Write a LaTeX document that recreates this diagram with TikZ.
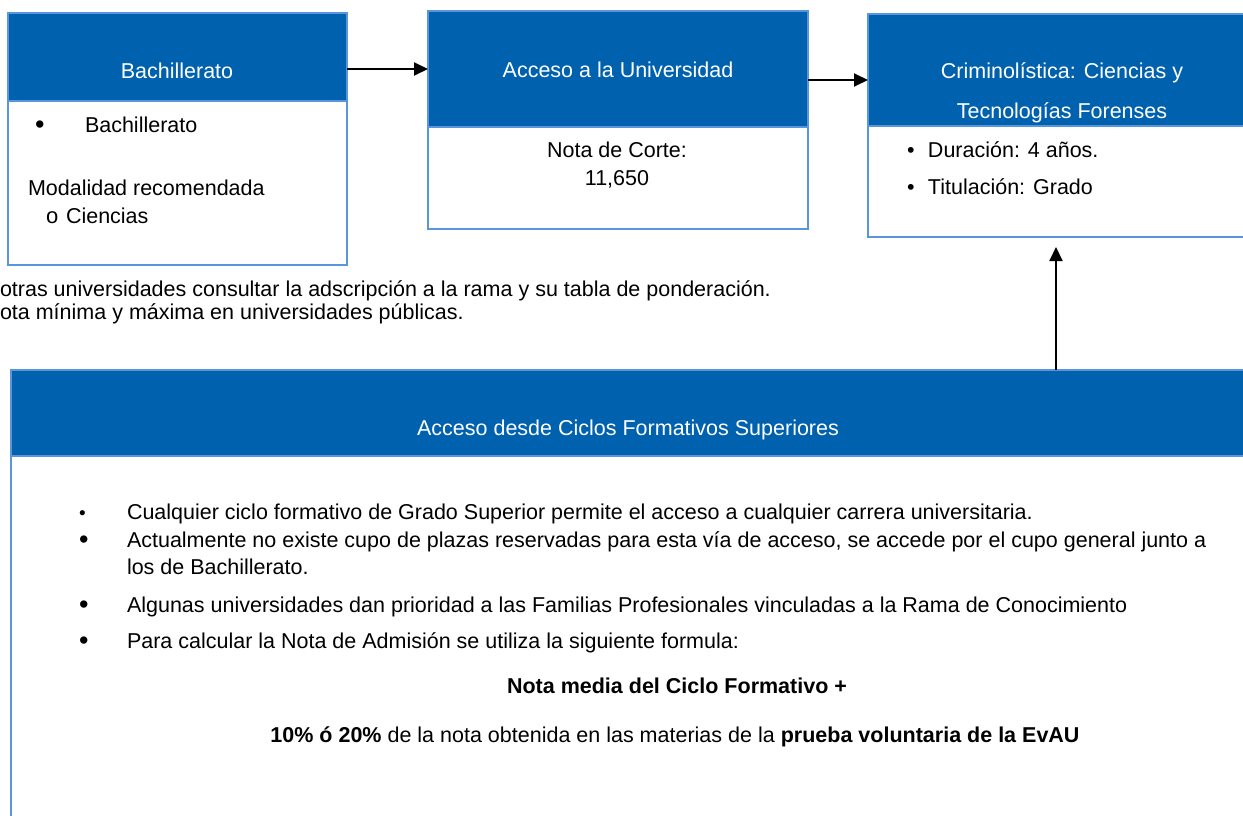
\documentclass[tikz,border=0pt]{standalone}
\usepackage{fontspec}
\setmainfont{Liberation Sans}
\usetikzlibrary{arrows.meta,calc}
\definecolor{hdrblue}{RGB}{0,97,174}
\definecolor{edgeblue}{RGB}{90,150,220}
\newcommand{\bigbul}{{\fontsize{27}{20}\selectfont\raisebox{-1pt}{•}}}
\begin{document}
\begin{tikzpicture}[x=1pt,y=-1pt,
  every node/.style={inner sep=0pt,outer sep=0pt},
  hdr/.style={draw=edgeblue,line width=1.2pt,fill=hdrblue,anchor=north west},
  bodybox/.style={draw=edgeblue,line width=1.2pt,fill=white,anchor=north west},
  htxt/.style={text=white,font=\fontsize{21.5}{25}\selectfont},
  txt/.style={text=black,font=\fontsize{21.5}{25}\selectfont,text height=15pt,text depth=4pt},
  arr/.style={line width=2pt,-{Triangle[length=14pt,width=13pt]}}]
\path[use as bounding box] (0,0) rectangle (1243,816);
\clip (0,0) rectangle (1243,816);
% box 1
\node[bodybox,minimum width=339pt,minimum height=252pt] (b1) at (8,13) {};
\node[hdr,minimum width=339pt,minimum height=88pt] (h1) at (8,13) {};
\node[htxt] (t1) at (177,71) {Bachillerato};
\node[txt,anchor=west] (b1a) at (35,127) {\makebox[50pt][l]{\bigbul}Bachillerato};
\node[txt,anchor=west] (b1b) at (28,190) {Modalidad recomendada};
\node[txt,anchor=west] (b1c) at (46,218) {\makebox[20pt][l]{\fontsize{22}{20}\selectfont o}Ciencias};
% box 2
\node[bodybox,minimum width=380pt,minimum height=218pt] (b2) at (428,11) {};
\node[hdr,minimum width=380pt,minimum height=116pt] (h2) at (428,11) {};
\node[htxt] (t2) at (618,70) {Acceso a la Universidad};
\node[txt] (b2a) at (617,152) {Nota de Corte:};
\node[txt] (b2b) at (617,180) {11,650};
% box 3
\node[bodybox,minimum width=388pt,minimum height=223pt] (b3) at (868,14) {};
\node[hdr,minimum width=388pt,minimum height=112pt] (h3) at (868,14) {};
\node[htxt,align=center,font=\fontsize{21.5}{40}\selectfont] (t3) at (1062,93) {Criminolística: Ciencias y\\Tecnologías Forenses};
\node[txt,anchor=west] (b3a) at (907,152) {\makebox[21pt][l]{•}Duración: 4 años.};
\node[txt,anchor=west] (b3b) at (907,189) {\makebox[21pt][l]{•}Titulación: Grado};
% notes
\node[txt,anchor=west] (n1) at (0,291) {otras universidades consultar la adscripción a la rama y su tabla de ponderación.};
\node[txt,anchor=west] (n2) at (0,314) {ota mínima y máxima en universidades públicas.};
% box 4
\node[bodybox,minimum width=1235pt,minimum height=470pt] (b4) at (11,370) {};
\node[hdr,minimum width=1235pt,minimum height=86pt] (h4) at (11,370) {};
\node[htxt] (t4) at (628,430) {Acceso desde Ciclos Formativos Superiores};
\node[txt,anchor=west] (l1) at (79,514) {\makebox[48pt][l]{\fontsize{19}{16}\selectfont •}Cualquier ciclo formativo de Grado Superior permite el acceso a cualquier carrera universitaria.};
\node[txt,anchor=west] (l2) at (79,542) {\makebox[48pt][l]{\bigbul}Actualmente no existe cupo de plazas reservadas para esta vía de acceso, se accede por el cupo general junto a};
\node[txt,anchor=west] (l2b) at (127,569) {los de Bachillerato.};
\node[txt,anchor=west] (l3) at (79,607) {\makebox[48pt][l]{\bigbul}Algunas universidades dan prioridad a las Familias Profesionales vinculadas a la Rama de Conocimiento};
\node[txt,anchor=west] (l4) at (79,643) {\makebox[48pt][l]{\bigbul}Para calcular la Nota de Admisión se utiliza la siguiente formula:};
\node[txt] (f1) at (677,688) {\bfseries Nota media del Ciclo Formativo +};
\node[txt] (f2) at (675,737) {\textbf{10\% ó 20\%} de la nota obtenida en las materias de la \textbf{prueba voluntaria de la EvAU}};
% arrows
\draw[arr] (h1.east |- h2.west) -- (h2.west);
\coordinate (a2) at ($(h2.east)+(0,11)$);
\draw[arr] (a2) -- (a2 -| h3.west);
\coordinate (up) at (1056,370);
\draw[arr,shorten >=10pt] (up) -- (up |- b3.south);
\end{tikzpicture}
\end{document}
